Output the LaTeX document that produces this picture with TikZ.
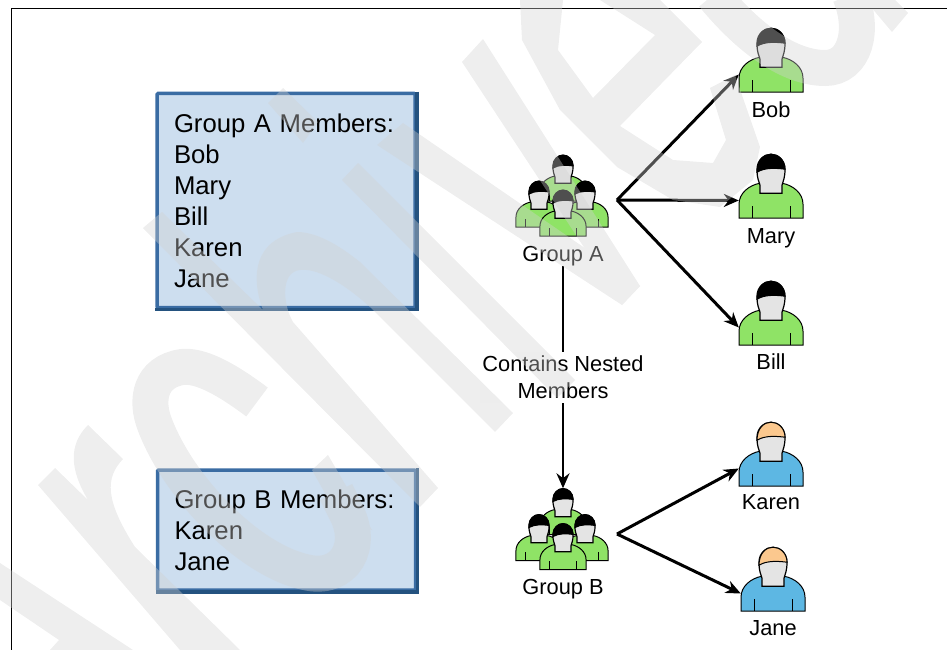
\documentclass[tikz,border=0pt]{standalone}
\usepackage{fontspec}
\setmainfont{Liberation Sans}
\usetikzlibrary{positioning,arrows.meta}
\definecolor{shirtgreen}{HTML}{8FE366}
\definecolor{shirtblue}{HTML}{5DB7E3}
\definecolor{hairpeach}{HTML}{FBC88E}
\definecolor{facegray}{HTML}{E4E4E4}
\definecolor{boxfill}{HTML}{CDDEEF}
\definecolor{boxline}{HTML}{3A6CA3}
\definecolor{boxdark}{HTML}{24527F}
\definecolor{markgray}{HTML}{D2D2D2}
\tikzset{>={Stealth[length=15pt,width=13pt]}}
\tikzset{
  link/.style={->,line width=3pt,line join=round},
  bodyarea/.style={inner sep=0,minimum width=64pt,minimum height=35pt},
  grouparea/.style={inner sep=0,minimum width=92pt,minimum height=81pt},
  namelabel/.style={inner sep=0,text height=16pt,text depth=4.5pt,font=\fontsize{21.8}{27}\selectfont},
  memberbox/.style={draw=boxline,fill=boxfill,line width=3.5pt,rounded corners=1pt,minimum width=257pt,
    inner xsep=17pt,text width=224pt,align=left,font=\fontsize{25.7}{31}\selectfont},
  pics/person/.style 2 args={code={
    \draw[fill=#1,line width=1pt] (-32,0) -- (-32,-14) .. controls (-32,-25) and (-22,-33) .. (-11,-35) -- (11,-35)
      .. controls (22,-33) and (32,-25) .. (32,-14) -- (32,0) -- cycle;
    \draw[line width=.8pt] (-19,0) -- (-19,-12) (19,0) -- (19,-12);
    \draw[fill=facegray,line width=1.2pt] (-11,-25) -- (-11,-33) .. controls (-12,-37) and (-14,-39) .. (-14,-49)
      .. controls (-14,-58) and (-7,-64) .. (0,-64) .. controls (7,-64) and (14,-58) .. (14,-49)
      .. controls (14,-40) and (12,-37) .. (11,-33) -- (11,-25) -- cycle;
    \draw[fill=#2,line width=1pt] (-14,-46) .. controls (-14,-58) and (-7,-64) .. (0,-64)
      .. controls (7,-64) and (14,-58) .. (14,-49) .. controls (6,-50) and (-6,-51) .. (-14,-46) -- cycle;
  }},
  pics/crowd/.style={code={
    \pic[scale=.72] at (0,-35) {person={shirtgreen}{black}};
    \pic[scale=.72] at (-24,-9) {person={shirtgreen}{black}};
    \pic[scale=.72] at (22,-9) {person={shirtgreen}{black}};
    \pic[scale=.72] at (0,0) {person={shirtgreen}{black}};
  }},
}

\begin{document}
\begin{tikzpicture}[x=1pt,y=-1pt]
\useasboundingbox (0,0) rectangle (947,650);
\coordinate (framea) at (11.5,650);
\coordinate (frameb) at (11.5,8.5);
\coordinate (framec) at (947,8.5);
\draw[line width=1.3pt] (framea) -- (frameb) -- (framec);
% member lists
\node[memberbox,minimum height=214pt] (boxa) at (286,200.5) {Group A Members:\\Bob\\Mary\\Bill\\Karen\\Jane};
\node[memberbox,minimum height=120pt] (boxb) at (286.5,530) {Group B Members:\\Karen\\Jane};
\draw[boxdark,line width=3.5pt] (boxa.north east) -- (boxa.south east) -- (boxa.south west);
\draw[boxdark,line width=3.5pt] (boxb.north east) -- (boxb.south east) -- (boxb.south west);
% people
\node[bodyarea] (bob) at (771,74.5) {};
\node[bodyarea] (mary) at (771,200.5) {};
\node[bodyarea] (bill) at (771,327.5) {};
\node[bodyarea] (karen) at (771,468.5) {};
\node[bodyarea] (jane) at (773,593.5) {};
\pic at (bob.south) {person={shirtgreen}{black}};
\pic at (mary.south) {person={shirtgreen}{black}};
\pic at (bill.south) {person={shirtgreen}{black}};
\pic at (karen.south) {person={shirtblue}{hairpeach}};
\pic at (jane.south) {person={shirtblue}{hairpeach}};
\node[namelabel,below=9pt of bob] (boblabel) {Bob};
\node[namelabel,below=9pt of mary] (marylabel) {Mary};
\node[namelabel,below=8pt of bill] (billlabel) {Bill};
\node[namelabel,below=7pt of karen] (karenlabel) {Karen};
\node[namelabel,below=8pt of jane] (janelabel) {Jane};
% groups
\node[grouparea] (groupa) at (563,195.5) {};
\node[grouparea] (groupb) at (563,529) {};
\pic at (groupa.south) {crowd};
\pic at (groupb.south) {crowd};
\node[namelabel,below=9pt of groupa] (groupalabel) {Group A};
\node[namelabel,below=9pt of groupb] (groupblabel) {Group B};
\coordinate (fana) at (617,200);
\coordinate (fanb) at (617,534);
\draw[link] (fana) -- (bob.west);
\draw[link] (fana) -- (mary.west);
\draw[link] (fana) -- (bill.west);
\draw[link] (fanb) -- (karen.west);
\draw[link] (fanb) -- (jane.west);
\draw[->,line width=2.2pt] (groupalabel.south) -- node[fill=white,inner xsep=2pt,inner ysep=4pt,align=center,
  font=\fontsize{21.8}{27}\selectfont] (nested) {Contains Nested\\Members} (groupb.north);
% pale lettering laid over the page
\begin{scope}[transparency group,opacity=.38]
\fill[markgray] (0,563) -- (133,650) -- (50,650) -- (59,640) -- (0,600) -- cycle;
\fill[markgray] (55,468) -- (88,500) .. controls (70,470) and (68,445) .. (88,425) -- (123,459)
  .. controls (105,478) and (105,500) .. (135,547) -- (240,650) -- (180,650) -- (38,485) -- cycle;
\draw[markgray,line width=36pt] (257,402) .. controls (225,378) and (200,365) .. (182,367)
  .. controls (150,372) and (145,400) .. (155,425) .. controls (180,490) and (250,560) .. (305,572)
  .. controls (345,582) and (365,545) .. (345,510) -- (336,492);
\fill[markgray] (312,470) -- (328,455) -- (372,530) -- (340,520) -- cycle;
\fill[markgray] (143,228) -- (162,212) -- (263,310) .. controls (250,275) and (255,240) .. (297,232)
  .. controls (320,232) and (345,250) .. (360,262) -- (513,413) -- (495,432) -- (370,307)
  .. controls (340,280) and (315,268) .. (300,270) .. controls (280,272) and (283,305) .. (293,322)
  -- (438,488) -- (420,507) -- cycle;
\fill[markgray] (268,103) -- (283,88) -- (318,122) -- (303,143) -- cycle;
\fill[markgray] (342,180) -- (358,163) -- (575,380) -- (557,398) -- cycle;
\fill[markgray] (377,145) -- (403,123) -- (640,286) -- (622,305) -- cycle;
\fill[markgray] (462,62) -- (483,39) -- (640,286) -- (622,305) -- cycle;
\fill[markgray] (520,0) -- (522,40) -- (560,110) -- (617,167) -- (673,200) -- (720,207) -- (753,180)
  -- (760,147) -- (735,75) -- (710,88) -- (726,140) -- (713,163) -- (673,160) -- (620,126) -- (702,42)
  -- (660,0) -- (600,0) -- (655,35) -- (593,98) -- (558,50) -- (563,0) -- cycle;
\draw[markgray,line width=36pt] (713,-5) .. controls (750,40) and (790,68) .. (825,68)
  .. controls (855,68) and (865,30) .. (850,-5);
\fill[markgray] (892,32) -- (908,13) -- (895,0) -- (865,0) -- cycle;
\end{scope}
\end{tikzpicture}
\end{document}
